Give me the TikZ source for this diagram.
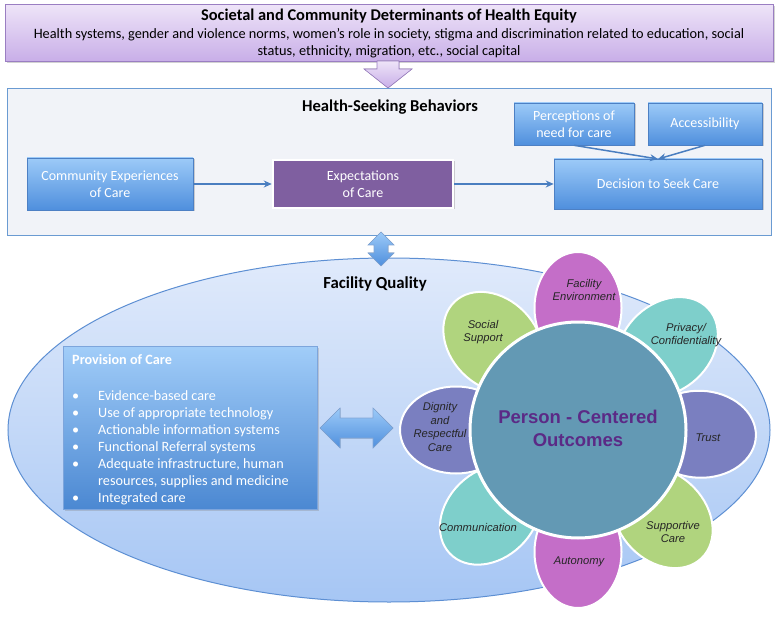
\documentclass[tikz,border=0pt]{standalone}
\usepackage{fontspec}
\setmainfont{Carlito}
\newfontfamily\arialf{Liberation Sans}
\usetikzlibrary{shapes.geometric,shadows,arrows.meta}
\definecolor{purtop}{HTML}{EEE4F8}
\definecolor{purbot}{HTML}{C8AEE8}
\definecolor{purline}{HTML}{9A7EC2}
\definecolor{hsfill}{HTML}{F1F3F8}
\definecolor{hsline}{HTML}{6A9BD2}
\definecolor{btop}{HTML}{9CCAF8}
\definecolor{bbot}{HTML}{4F8FDD}
\definecolor{bline}{HTML}{4D80C4}
\definecolor{expfill}{HTML}{7F5FA0}
\definecolor{conncol}{HTML}{4A7EC0}
\definecolor{elltop}{HTML}{E0EAFB}
\definecolor{ellbot}{HTML}{A6C6F4}
\definecolor{ellline}{HTML}{5D8FD3}
\definecolor{ctrfill}{HTML}{6399B4}
\definecolor{ctrtext}{HTML}{5B2A86}
\definecolor{pmag}{HTML}{C46EC8}
\definecolor{pteal}{HTML}{7ECFCB}
\definecolor{pblue}{HTML}{7A7FC0}
\definecolor{pgreen}{HTML}{B0D47E}
\tikzset{
  bluebox/.style={rectangle, draw=bline, line width=0.6pt, top color=btop, bottom color=bbot,
    text=white, align=center, font=\fontsize{14}{17}\selectfont, inner sep=2pt,
    drop shadow={shadow xshift=1.5pt, shadow yshift=-1.5pt, opacity=0.35}},
  conn/.style={draw=conncol, line width=1.5pt, -{Stealth[length=8pt,width=7pt]}},
  petal/.style={ellipse, draw=white, line width=2pt, minimum width=112pt, minimum height=87pt, inner sep=0pt},
  ptext/.style={font=\arialf\itshape\fontsize{11.2}{13.5}\selectfont, text=black!85, align=center},
  fatblue/.style={top color=btop, bottom color=bbot, draw=bline!70, line width=0.6pt},
  toptext/.style={font=\fontsize{14.3}{17}\selectfont, inner sep=0pt}
}
\begin{document}
\begin{tikzpicture}[x=1pt,y=-1pt]
\useasboundingbox (0,0) rectangle (778,617);
\fill[white] (0,0) rectangle (778,617);

% top box
\node[rectangle, anchor=north west, minimum width=768pt, minimum height=57pt, draw=purline, line width=0.8pt,
  top color=purtop, bottom color=purbot, inner sep=0pt,
  drop shadow={shadow xshift=1.5pt, shadow yshift=-1.5pt, opacity=0.35}] (soc) at (5,4) {};
\node[toptext, font=\bfseries\fontsize{16.4}{18}\selectfont] (soct) at (389,16)
  {Societal and Community Determinants of Health Equity};
\node[toptext] (socl1) at (389,35)
  {Health systems, gender and violence norms, women’s role in society, stigma and discrimination related to education, social};
\node[toptext] (socl2) at (389,52) {status, ethnicity, migration, etc., social capital};

% health-seeking box
\node[rectangle, anchor=north west, minimum width=764pt, minimum height=147pt, draw=hsline, line width=1pt, fill=hsfill] (hsb) at (7,88) {};
% down arrow
\filldraw[draw=purline, line width=0.6pt, top color=purtop, bottom color=purbot]
  (377,61) -- (399,61) -- (399,69) -- (412,69) -- (388,88) -- (364,69) -- (377,69) -- cycle;

\node[font=\bfseries\fontsize{16.6}{19}\selectfont] (hsbt) at (390,107) {Health-Seeking Behaviors};

\node[bluebox, minimum width=166pt, minimum height=52pt] (comm) at (110,184) {Community Experiences\\of Care};
\node[rectangle, fill=expfill, draw=white, line width=2.5pt, text=white, align=center,
  font=\fontsize{14}{17}\selectfont, minimum width=180pt, minimum height=48pt,
  drop shadow={shadow xshift=1.5pt, shadow yshift=-1.5pt, opacity=0.35}] (expect) at (363,184) {Expectations\\of Care};
\node[bluebox, minimum width=208pt, minimum height=50pt] (decide) at (658,184) {Decision to Seek Care};
\node[bluebox, minimum width=120pt, minimum height=42pt] (percep) at (574,124) {Perceptions of\\need for care};
\node[bluebox, minimum width=114pt, minimum height=42pt] (access) at (705,124) {Accessibility};
\coordinate (conv) at (658,159);

\draw[conn] (comm) -- (expect);
\draw[conn] (expect) -- (decide);
\draw[conn] (percep.south) -- (conv);
\draw[conn] (access.south) -- (conv);

% facility quality ellipse
\node[ellipse, minimum width=762pt, minimum height=344pt, draw=ellline, line width=1pt,
  top color=elltop, bottom color=ellbot, inner sep=0pt] (fq) at (389,430) {};
\node[font=\bfseries\fontsize{16.8}{19}\selectfont] (fqt) at (375,284) {Facility Quality};

% vertical double arrow
\filldraw[fatblue]
  (381,232) -- (394,245) -- (388,245) -- (388,253) -- (394,253) -- (381,266)
  -- (368,253) -- (374,253) -- (374,245) -- (368,245) -- cycle;

% provision of care
\node[rectangle, anchor=north west, minimum width=254pt, minimum height=163pt, draw=ellline!80,
  line width=0.6pt, top color=btop!95!white, bottom color=bbot!95!black,
  drop shadow={shadow xshift=1.5pt, shadow yshift=-1.5pt, opacity=0.3}] (prov) at (63,346) {};
\node[anchor=north west, text=white, align=left, inner sep=0pt, font=\fontsize{14.2}{17}\selectfont] (provt) at (72,354)
 {{\bfseries Provision of Care}\\[23pt]
  \begin{tabular}{@{}p{26pt}@{}l@{}}
  \textbullet & Evidence-based care\\
  \textbullet & Use of appropriate technology\\
  \textbullet & Actionable information systems\\
  \textbullet & Functional Referral systems\\
  \textbullet & Adequate infrastructure, human\\
   & resources, supplies and medicine\\
  \textbullet & Integrated care
  \end{tabular}};

% horizontal double arrow
\filldraw[fatblue]
  (320,428) -- (340,408) -- (340,418) -- (373,418) -- (373,408) -- (393,428)
  -- (373,448) -- (373,438) -- (340,438) -- (340,448) -- cycle;

% flower
\coordinate (fc) at (578,430);
\node[petal, fill=pmag,   rotate=90]  (p1) at ({578+122*cos(90)},{430-122*sin(90)}) {};
\node[petal, fill=pteal,  rotate=43]  (p2) at ({578+122*cos(43)},{430-122*sin(43)}) {};
\node[petal, fill=pblue,  rotate=-2]  (p3) at ({578+122*cos(-2)},{430-122*sin(-2)}) {};
\node[petal, fill=pgreen, rotate=-46] (p4) at ({578+122*cos(-46)},{430-122*sin(-46)}) {};
\node[petal, fill=pmag,   rotate=-90] (p5) at ({578+122*cos(-90)},{430-122*sin(-90)}) {};
\node[petal, fill=pteal,  rotate=-136] (p6) at ({578+122*cos(-136)},{430-122*sin(-136)}) {};
\node[petal, fill=pblue,  rotate=180] (p7) at ({578+122*cos(180)},{430-122*sin(180)}) {};
\node[petal, fill=pgreen, rotate=134] (p8) at ({578+122*cos(134)},{430-122*sin(134)}) {};

\node[circle, minimum size=216pt, fill=ctrfill, draw=white, line width=3pt, inner sep=0pt] (ctr) at (fc) {};
\node[font=\arialf\bfseries\fontsize{18.5}{23}\selectfont, text=ctrtext, align=center] (ctrt) at (578,428)
  {Person - Centered\\Outcomes};

\node[ptext] (t1) at (584,290) {Facility\\Environment};
\node[ptext] (t2) at (686,335) {Privacy/\\Confidentiality};
\node[ptext] (t3) at (708,438) {Trust};
\node[ptext] (t4) at (673,532) {Supportive\\Care};
\node[ptext] (t5) at (579,562) {Autonomy};
\node[ptext] (t6) at (478,527) {Communication};
\node[ptext, font=\arialf\itshape\fontsize{11.2}{13.5}\selectfont] (t7) at (440,427) {Dignity\\and\\Respectful\\Care};
\node[ptext] (t8) at (483,332) {Social\\Support};
\end{tikzpicture}
\end{document}
